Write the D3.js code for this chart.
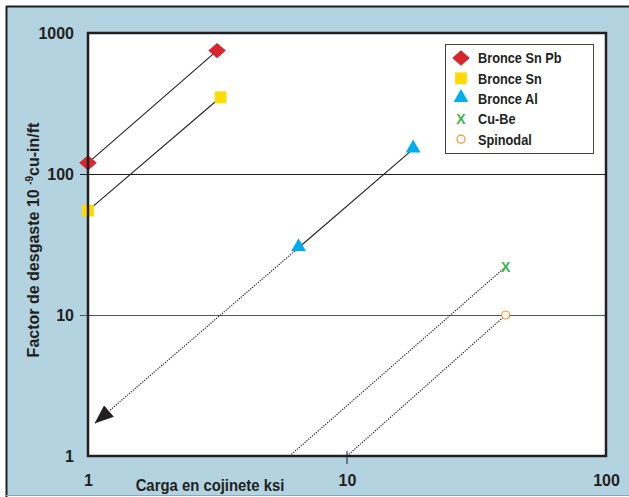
<!DOCTYPE html>
<html>
<head>
<meta charset="utf-8">
<script src="https://cdn.jsdelivr.net/npm/d3@7"></script>
<style>
  body { margin: 0; background: #fff; }
  svg text { font-family: "Liberation Sans", Arial, sans-serif; fill: #231f20; }
</style>
</head>
<body>
<div id="chart"></div>
<script>
// svg container
var svgWidth = 629;
var svgHeight = 497;

// plot box
var margin = { top: 33, right: 23, bottom: 41, left: 88 };
var chartWidth = svgWidth - margin.left - margin.right;
var chartHeight = svgHeight - margin.top - margin.bottom;

// data (x = load ksi, y = wear factor)
var seriesNames = ["Bronce Sn Pb", "Bronce Sn", "Bronce Al", "Cu-Be", "Spinodal"];
var snPbX = [1.0, 3.15];
var snPbY = [120, 750];
var snX = [1.0, 3.25];
var snY = [55, 350];
var alX = [6.5, 18];
var alY = [30, 150];
var alExtX = [6.5, 1.06];      // dotted extension with arrow
var alExtY = [30, 1.7];
var cuBeX = [6.0, 41];
var cuBeY = [1, 22];
var spinX = [10, 41];
var spinY = [1, 10];
var xTicks = [1, 10, 100];
var yTicks = [1, 10, 100, 1000];
var gridY = [10, 100];

var colors = {
  "Bronce Sn Pb": "#d7262e",
  "Bronce Sn": "#ffdb00",
  "Bronce Al": "#00aeef",
  "Cu-Be": "#39b54a",
  "Spinodal": "#f7941d"
};

var svg = d3.select("#chart").append("svg")
  .attr("width", svgWidth)
  .attr("height", svgHeight);

// blue frame
svg.append("rect")
  .attr("x", 0).attr("y", 0)
  .attr("width", svgWidth).attr("height", svgHeight)
  .attr("fill", "#fff");
svg.append("rect")
  .attr("x", 7).attr("y", 7)
  .attr("width", svgWidth).attr("height", svgHeight - 9)
  .attr("fill", "#b3d3e1");
svg.append("line").attr("x1", 6).attr("x2", svgWidth).attr("y1", 6.5).attr("y2", 6.5)
  .attr("stroke", "#231f20").attr("stroke-width", 2);
svg.append("line").attr("x1", 6.5).attr("x2", 6.5).attr("y1", 6).attr("y2", svgHeight)
  .attr("stroke", "#231f20").attr("stroke-width", 2);
svg.append("line").attr("x1", 6).attr("x2", svgWidth).attr("y1", svgHeight - 1.5).attr("y2", svgHeight - 1.5)
  .attr("stroke", "#8aa9b8").attr("stroke-width", 1);

var chartGroup = svg.append("g")
  .attr("transform", `translate(${margin.left}, ${margin.top})`);

// scales
var xScale = d3.scaleLog().domain([1, 100]).range([0, chartWidth]);
var yScale = d3.scaleLog().domain([1, 1000]).range([chartHeight, 0]);

chartGroup.append("rect")
  .attr("width", chartWidth).attr("height", chartHeight)
  .attr("fill", "#fff");

// gridlines
chartGroup.selectAll(".grid")
  .data(gridY)
  .enter()
  .append("line")
  .attr("x1", -8).attr("x2", chartWidth)
  .attr("y1", d => Math.round(yScale(d)) + 0.5)
  .attr("y2", d => Math.round(yScale(d)) + 0.5)
  .attr("stroke", d => d == 100 ? "#231f20" : "#555")
  .attr("stroke-width", 1.2);

// axes (labels only)
var yAxis = d3.axisLeft(yScale).tickValues(yTicks).tickFormat(d3.format("d")).tickSize(0).tickPadding(14);
var xAxis = d3.axisBottom(xScale).tickValues(xTicks).tickFormat(d3.format("d")).tickSize(0).tickPadding(19);

var yG = chartGroup.append("g").call(yAxis);
yG.select(".domain").remove();
yG.selectAll("text")
  .attr("font-size", "16px")
  .attr("font-weight", "bold")
  .attr("fill", "#231f20")
  .style("font-family", "'Liberation Sans', Arial, sans-serif");

var xG = chartGroup.append("g")
  .attr("transform", `translate(0, ${chartHeight})`)
  .call(xAxis);
xG.select(".domain").remove();
xG.selectAll("text")
  .attr("font-size", "16px")
  .attr("font-weight", "bold")
  .attr("fill", "#231f20")
  .attr("dy", "0.71em")
  .style("font-family", "'Liberation Sans', Arial, sans-serif");

// small tick through x=10
chartGroup.append("line")
  .attr("x1", xScale(10)).attr("x2", xScale(10))
  .attr("y1", chartHeight - 5).attr("y2", chartHeight + 8)
  .attr("stroke", "#231f20").attr("stroke-width", 1);

// arrow marker
svg.append("defs").append("marker")
  .attr("id", "arrow")
  .attr("viewBox", "0 0 10 10")
  .attr("refX", 10).attr("refY", 5)
  .attr("markerWidth", 19).attr("markerHeight", 15)
  .attr("markerUnits", "userSpaceOnUse")
  .attr("orient", "auto")
  .attr("preserveAspectRatio", "none")
  .append("path")
  .attr("d", "M0,0 L10,5 L0,10 Z")
  .attr("fill", "#231f20");

function pts(xs, ys) {
  return xs.map((x, i) => [xScale(x), yScale(ys[i])]);
}
var line = d3.line();

// solid lines
[[snPbX, snPbY], [snX, snY], [alX, alY]].forEach(function(s) {
  chartGroup.append("path")
    .attr("d", line(pts(s[0], s[1])))
    .attr("fill", "none")
    .attr("stroke", "#231f20")
    .attr("stroke-width", 1.1);
});

// dotted lines
[[cuBeX, cuBeY], [spinX, spinY]].forEach(function(s) {
  chartGroup.append("path")
    .attr("d", line(pts(s[0], s[1])))
    .attr("fill", "none")
    .attr("stroke", "#231f20")
    .attr("stroke-width", 1.2)
    .attr("stroke-dasharray", "1.2,1.3");
});
chartGroup.append("path")
  .attr("d", line(pts(alExtX, alExtY)))
  .attr("fill", "none")
  .attr("stroke", "#231f20")
  .attr("stroke-width", 1.2)
  .attr("stroke-dasharray", "1.2,1.3")
  .attr("marker-end", "url(#arrow)");

// markers
var sym = {
  "Bronce Sn Pb": d3.symbol().type(d3.symbolDiamond2).size(150),
  "Bronce Sn": d3.symbol().type(d3.symbolSquare).size(140),
  "Bronce Al": d3.symbol().type(d3.symbolTriangle).size(95)
};

function drawMarker(g, name, x, y) {
  if (name == "Cu-Be") {
    g.append("text")
      .attr("x", x).attr("y", y).attr("dy", "0.36em")
      .attr("text-anchor", "middle")
      .attr("font-size", "14px").attr("font-weight", "bold")
      .style("fill", colors[name])
      .text("X");
  } else if (name == "Spinodal") {
    g.append("circle")
      .attr("cx", x).attr("cy", y).attr("r", 4)
      .attr("fill", "#fff")
      .attr("stroke", colors[name]).attr("stroke-width", 1.2);
  } else {
    var s = sym[name];
    g.append("path")
      .attr("d", s())
      .attr("transform", `translate(${x}, ${y})` + (name == "Bronce Sn Pb" ? " scale(1.15,1)" : ""))
      .attr("fill", colors[name]);
  }
}

[["Bronce Sn Pb", snPbX, snPbY], ["Bronce Sn", snX, snY], ["Bronce Al", alX, alY],
 ["Cu-Be", [cuBeX[1]], [cuBeY[1]]], ["Spinodal", [spinX[1]], [spinY[1]]]].forEach(function(s) {
  s[1].forEach(function(x, i) {
    drawMarker(chartGroup, s[0], xScale(x), yScale(s[2][i]) - (s[0] == "Bronce Al" ? 1 : 0));
  });
});

// plot border
chartGroup.append("rect")
  .attr("width", chartWidth).attr("height", chartHeight)
  .attr("fill", "none")
  .attr("stroke", "#231f20")
  .attr("stroke-width", 2.5);

// legend
var legend = svg.append("g").attr("transform", "translate(445, 44)");
legend.append("rect")
  .attr("x", 0.5).attr("y", 0.5)
  .attr("width", 148).attr("height", 109)
  .attr("fill", "#fff")
  .attr("stroke", "#444")
  .attr("stroke-width", 1);
var condense = 0.85;
seriesNames.forEach(function(name, i) {
  var y = 14 + i * 20.3;
  drawMarker(legend, name, 16, y + (name == "Bronce Al" ? -1 : 0));
  legend.append("text")
    .attr("transform", `translate(33, ${y}) scale(${condense}, 1)`)
    .attr("dy", "0.36em")
    .attr("font-size", "15px").attr("font-weight", "bold")
    .text(name);
});

// axis titles
chartGroup.append("text")
  .attr("transform", `translate(122, ${chartHeight + 24}) scale(0.93, 1)`)
  .attr("dy", "0.71em")
  .attr("text-anchor", "middle")
  .attr("font-size", "16px").attr("font-weight", "bold")
  .text("Carga en cojinete ksi");

var yTitle = svg.append("text")
  .attr("transform", "translate(39, 240) rotate(-90)")
  .attr("text-anchor", "middle")
  .attr("font-size", "16px").attr("font-weight", "bold");
yTitle.append("tspan").text("Factor de desgaste 10 ");
yTitle.append("tspan").attr("font-size", "10px").attr("dy", "-6").text("-9");
yTitle.append("tspan").attr("dy", "6").text("cu-in/ft");
</script>
</body>
</html>
